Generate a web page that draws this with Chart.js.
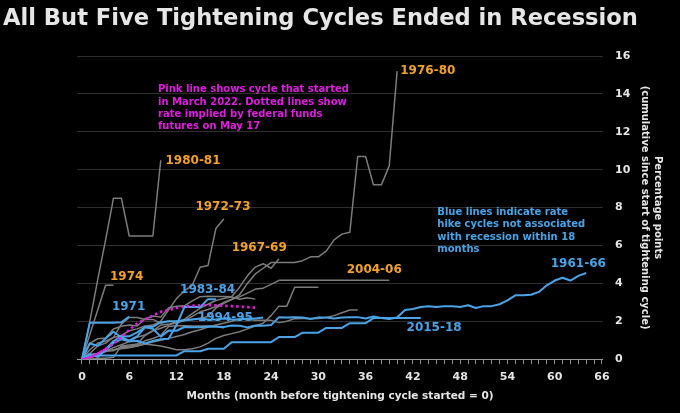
<!DOCTYPE html>
<html lang="en">
<head>
<meta charset="UTF-8">
<title>All But Five Tightening Cycles Ended in Recession</title>
<script src="https://cdn.jsdelivr.net/npm/chart.js@4"></script>
<style>
  html, body { margin: 0; padding: 0; background: #000; }
  canvas { display: block; }
</style>
</head>
<body>
<canvas id="chart" width="680" height="413"></canvas>
<script>
// Cumulative rise in the fed funds rate, percentage points, one value per month
// (index 0 = month before the tightening cycle started)

// recession cycles (grey)
const c1955_57 = [0, 0.2, 0.3, 0.4, 0.5, 0.6, 0.65, 0.7, 0.8, 0.9, 1.0, 1.1, 1.2, 1.3, 1.45, 1.55, 1.7, 1.8, 1.9, 2.0, 2.14, 2.1, 2.05, 2.05, 2.05, 1.93, 2.0, 2.14, 2.15, 2.15, 2.15, 2.2, 2.3, 2.45, 2.6, 2.6];
const c1958_59 = [0, 0.85, 1.08, 1.12, 1.59, 1.74, 1.8, 1.75, 2.12, 2.28, 2.22, 2.71, 2.79, 2.82, 3.08, 3.3, 3.32, 3.31, 3.31, 3.29, 3.16, 3.24, 3.17];
const c1967_69 = [0, 0.3, 0.7, 0.85, 1.15, 1.85, 2.2, 2.2, 2.1, 2.1, 1.9, 2.0, 1.95, 2.1, 2.4, 2.7, 2.9, 3.1, 3.2, 3.3, 3.8, 4.4, 4.86, 5.04, 4.8, 5.3];
const c1972_73 = [0, 0.5, 0.85, 0.95, 1.15, 1.25, 1.5, 1.6, 1.75, 1.8, 2.0, 2.6, 3.2, 3.6, 3.9, 4.85, 4.95, 6.9, 7.4];
const c1974 = [0, 1.3, 2.6, 3.9, 3.9];
const c1976_80 = [0, 0, 0.05, 0.05, 0.1, 0.7, 0.75, 0.8, 1.25, 1.5, 1.8, 1.85, 1.9, 2.05, 2.1, 2.15, 2.25, 2.7, 2.95, 3.15, 3.4, 4.0, 4.5, 4.8, 5.1, 5.1, 5.1, 5.1, 5.2, 5.4, 5.4, 5.7, 6.3, 6.6, 6.7, 10.7, 10.7, 9.2, 9.2, 10.2, 15.2];
const c1980_81 = [0, 2.0, 4.2, 6.3, 8.5, 8.5, 6.5, 6.5, 6.5, 6.5, 10.5];
const c1986_89 = [0, 0.1, 0.3, 0.4, 0.5, 0.55, 0.6, 0.7, 0.8, 0.75, 0.7, 0.6, 0.5, 0.5, 0.55, 0.65, 0.85, 1.1, 1.25, 1.35, 1.45, 1.6, 1.75, 1.9, 2.3, 2.8, 2.8, 3.8, 3.8, 3.8, 3.8];
const c1999_00 = [0, 0.23, 0.3, 0.46, 0.44, 0.66, 0.69, 0.75, 0.97, 1.09, 1.26, 1.73, 1.76, 1.77, 1.75, 1.75, 1.75, 1.75, 1.64];
const c2004_06 = [0, 0.03, 0.26, 0.43, 0.61, 0.76, 0.93, 1.16, 1.28, 1.5, 1.63, 1.79, 2.0, 2.04, 2.26, 2.5, 2.62, 2.78, 3.0, 3.16, 3.29, 3.49, 3.7, 3.75, 3.95,
                  4.16, 4.16, 4.16, 4.16, 4.16, 4.16, 4.16, 4.16, 4.16, 4.16, 4.16, 4.16, 4.16, 4.16, 4.16];

// no recession within 18 months (blue)
const c1961_66 = [0, 0.83, 0.71, 1.09, 1.45, 1.16, 0.98, 1.2, 1.68, 1.61, 1.19, 1.51,
                  1.5, 1.7, 1.68, 1.68, 1.72, 1.71, 1.7, 1.78, 1.76, 1.68, 1.78, 1.77, 1.8,
                  2.22, 2.2, 2.22, 2.2, 2.12, 2.2, 2.2, 2.15, 2.2, 2.22, 2.22, 2.15, 2.25, 2.18, 2.12, 2.2,
                  2.6, 2.65, 2.75, 2.8, 2.75, 2.8, 2.8, 2.75, 2.85, 2.7, 2.8, 2.8, 2.9, 3.1, 3.37, 3.37, 3.4, 3.55, 3.9, 4.15, 4.3, 4.15, 4.4, 4.55];
const c1971 = [0, 1.93, 1.93, 1.93, 1.93, 1.95, 2.25];
const c1983_84 = [0, 0.28, 0.12, 0.47, 0.86, 1.05, 0.94, 0.97, 0.83, 0.96, 1.05, 1.08, 1.8, 2.75, 2.75, 2.75, 3.17, 3.17];
const c1994_95 = [0, 0.2, 0.29, 0.51, 0.96, 1.2, 1.21, 1.42, 1.68, 1.71, 1.95, 2.0, 2.0, 2.05, 2.1, 2.15, 2.1, 2.1, 2.15, 2.1, 2.1, 2.15, 2.15, 2.2];
const c2015_18 = [0, 0.2, 0.2, 0.2, 0.2, 0.2, 0.2, 0.2, 0.2, 0.2, 0.2, 0.2, 0.2,
                  0.42, 0.42, 0.42, 0.55, 0.55, 0.55, 0.9, 0.9, 0.9, 0.9, 0.9, 0.9,
                  1.17, 1.17, 1.17, 1.4, 1.4, 1.4, 1.65, 1.65, 1.65, 1.9, 1.9, 1.9,
                  2.17, 2.17, 2.17, 2.17, 2.17, 2.17, 2.17];

// cycle that started March 2022: actual, then implied by futures on May 17
const c2022Actual = [0, 0.1, 0.3, 0.55];
const c2022Futures = [null, null, null, 0.55, 0.8, 1.15, 1.55, 1.88, 2.1, 2.3, 2.5, 2.6, 2.7, 2.77, 2.82, 2.84, 2.85, 2.84, 2.82, 2.8, 2.78, 2.75, 2.72];

const monthTickLabels = [0, 6, 12, 18, 24, 30, 36, 42, 48, 54, 60, 66];
const valueTicks = [0, 2, 4, 6, 8, 10, 12, 14, 16];

const chartTitle = 'All But Five Tightening Cycles Ended in Recession';
const xTitle = 'Months (month before tightening cycle started = 0)';
const yTitle = ['Percentage points', '(cumulative since start of tightening cycle)'];

const GREY = '#7c7c7c';
const BLUE = '#4aa3e6';
const PINK = '#dd1fdd';
const ORANGE = '#f2a22c';
const TEXT = '#e6e6e6';
const FONT = '"DejaVu Sans", sans-serif';

// labels placed in data units (month, value) at their left edge
const cycleLabels = [
  { text: '1976-80', month: 40.4, value: 15.2, color: ORANGE },
  { text: '1980-81', month: 10.6, value: 10.45, color: ORANGE },
  { text: '1972-73', month: 14.4, value: 8.05, color: ORANGE },
  { text: '1967-69', month: 19.0, value: 5.85, color: ORANGE },
  { text: '1974', month: 3.55, value: 4.35, color: ORANGE },
  { text: '2004-06', month: 33.6, value: 4.69, color: ORANGE },
  { text: '1971', month: 3.8, value: 2.77, color: BLUE },
  { text: '1983-84', month: 12.45, value: 3.68, color: BLUE },
  { text: '1994-95', month: 14.7, value: 2.19, color: BLUE },
  { text: '2015-18', month: 41.2, value: 1.67, color: BLUE },
  { text: '1961-66', month: 59.5, value: 5.04, color: BLUE }
];
const notes = [
  { lines: ['Pink line shows cycle that started', 'in March 2022. Dotted lines show', 'rate implied by federal funds', 'futures on May 17'],
    month: 9.65, value: 14.23, color: PINK },
  { lines: ['Blue lines indicate rate', 'hike cycles not associated', 'with recession within 18', 'months'],
    month: 45.1, value: 7.76, color: BLUE }
];

function line(values, color, width, extra) {
  return Object.assign({
    data: values.map((v, i) => ({ x: i, y: v })).filter(p => p.y !== null),
    borderColor: color,
    borderWidth: width,
    pointRadius: 0,
    tension: 0,
    fill: false,
    borderJoinStyle: 'round'
  }, extra || {});
}

// first dataset is drawn on top
const datasets = [
  line(c2022Futures, PINK, 2.6, { borderDash: [2.5, 3] }),
  line(c2022Actual, PINK, 2),
  line(c1961_66, BLUE, 2),
  line(c1971, BLUE, 2),
  line(c1983_84, BLUE, 2),
  line(c1994_95, BLUE, 2),
  line(c2015_18, BLUE, 2),
  line(c1955_57, GREY, 1.5),
  line(c1958_59, GREY, 1.5),
  line(c1967_69, GREY, 1.5),
  line(c1972_73, GREY, 1.5),
  line(c1974, GREY, 1.5),
  line(c1976_80, GREY, 1.5),
  line(c1980_81, GREY, 1.5),
  line(c1986_89, GREY, 1.5),
  line(c1999_00, GREY, 1.5),
  line(c2004_06, GREY, 1.5)
];

const decorations = {
  id: 'decorations',
  beforeDraw(chart) {
    const { ctx, width, height } = chart;
    ctx.save();
    ctx.fillStyle = '#000';
    ctx.fillRect(0, 0, width, height);
    ctx.restore();
  },
  afterDatasetsDraw(chart) {
    const { ctx } = chart;
    const x = chart.scales.x, y = chart.scales.y;
    ctx.save();
    ctx.textAlign = 'left';
    ctx.textBaseline = 'middle';
    ctx.font = 'bold 12px ' + FONT;
    cycleLabels.forEach(l => {
      ctx.fillStyle = l.color;
      ctx.fillText(l.text, x.getPixelForValue(l.month), y.getPixelForValue(l.value));
    });
    ctx.font = 'bold 10px ' + FONT;
    notes.forEach(n => {
      ctx.fillStyle = n.color;
      const px = x.getPixelForValue(n.month);
      const py = y.getPixelForValue(n.value);
      n.lines.forEach((t, i) => ctx.fillText(t, px, py + i * 12.4));
    });
    ctx.font = 'bold 22.6px ' + FONT;
    ctx.fillStyle = TEXT;
    ctx.textBaseline = 'alphabetic';
    ctx.fillText(chartTitle, 3, 25);
    ctx.restore();
  }
};

Chart.defaults.font.family = FONT;

new Chart(document.getElementById('chart'), {
  type: 'line',
  data: { datasets },
  plugins: [decorations],
  options: {
    responsive: false,
    animation: false,
    devicePixelRatio: 1,
    layout: { padding: { left: 77, right: 15.7, top: 56, bottom: 8 } },
    plugins: { legend: { display: false }, tooltip: { enabled: false }, title: { display: false } },
    scales: {
      x: {
        type: 'linear',
        min: -0.63,
        max: 66.13,
        afterBuildTicks: s => {
          s.ticks = [];
          for (let m = 0; m <= 66; m++) s.ticks.push({ value: m });
        },
        ticks: {
          autoSkip: false,
          maxRotation: 0,
          padding: 6,
          color: TEXT,
          font: { size: 11, weight: 'bold' },
          callback: v => monthTickLabels.includes(v) ? String(v) : ''
        },
        grid: { display: true, drawOnChartArea: false, drawTicks: true, tickLength: 5, tickColor: '#8c8c8c' },
        border: { display: true, color: '#9a9a9a', width: 1 },
        title: { display: true, text: xTitle, color: TEXT, font: { size: 10.5, weight: 'bold' }, padding: { top: 1, bottom: 2 } }
      },
      y: {
        type: 'linear',
        position: 'right',
        min: 0,
        max: 16,
        afterBuildTicks: s => { s.ticks = valueTicks.map(v => ({ value: v })); },
        ticks: { padding: 12, color: TEXT, font: { size: 11, weight: 'bold' } },
        grid: { color: '#2e2e2e', drawTicks: false },
        border: { display: false },
        title: { display: true, text: yTitle, color: TEXT, font: { size: 10, weight: 'bold', lineHeight: 1.3 }, padding: { top: 0, bottom: -4 } }
      }
    }
  }
});
</script>
</body>
</html>
